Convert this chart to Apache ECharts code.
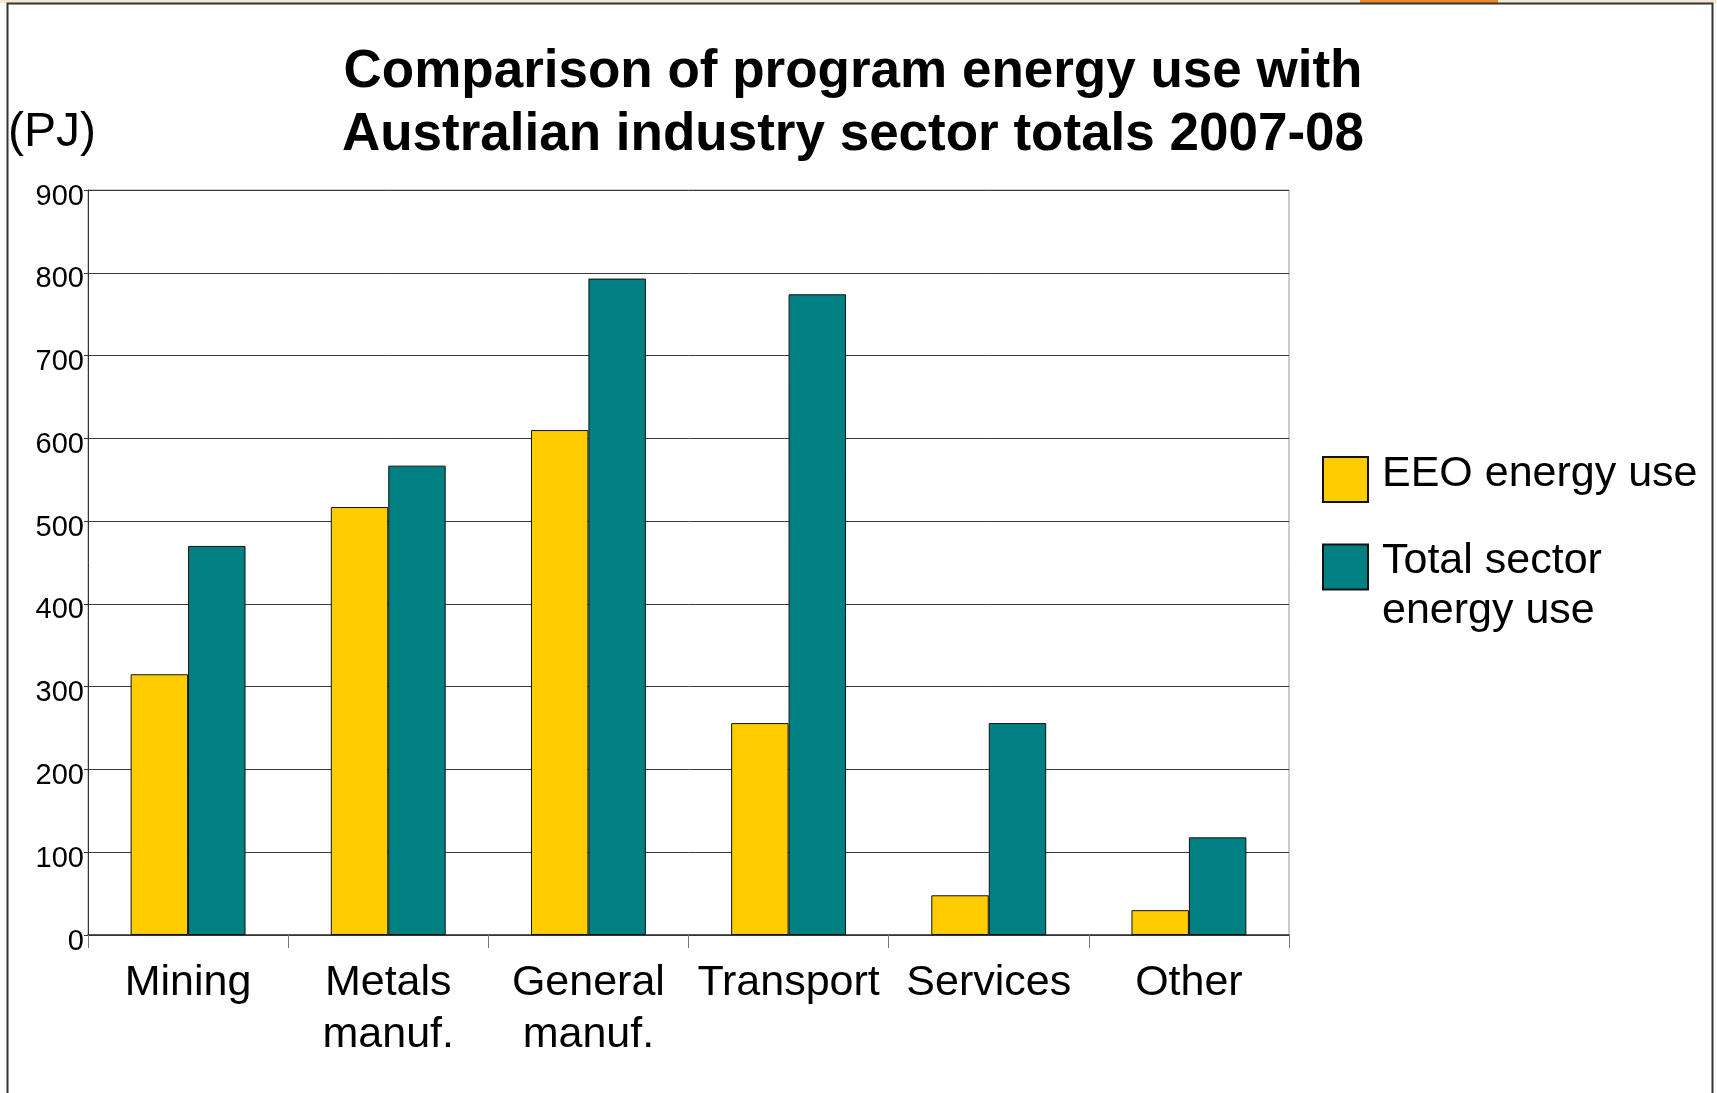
<!DOCTYPE html>
<html>
<head>
<meta charset="utf-8">
<script src="https://cdn.jsdelivr.net/npm/echarts@6/dist/echarts.min.js"></script>
<style>
html,body{margin:0;padding:0;background:#fff;}
#c{width:1717px;height:1093px;}
</style>
</head>
<body>
<div id="c"></div>
<script>
const categories = ['Mining', 'Metals\nmanuf.', 'General\nmanuf.', 'Transport', 'Services', 'Other'];
const eeoEnergyUse = [315, 517, 610, 256, 48, 30];
const totalSectorEnergyUse = [470, 567, 793, 774, 256, 118];
const yTicks = [0, 100, 200, 300, 400, 500, 600, 700, 800, 900];

const FONT = "'Liberation Sans', Arial, sans-serif";
const richLegend = {
  s: { fontSize: 10, lineHeight: 38 },
  e: { fontSize: 10, lineHeight: 10 },
  t: { fontFamily: FONT, fontSize: 43, lineHeight: 50, color: '#000' }
};
const chart = echarts.init(document.getElementById('c'));
chart.setOption({
  backgroundColor: '#fff',
  animation: false,
  textStyle: { fontFamily: FONT, color: '#000' },
  title: {
    text: 'Comparison of program energy use with\nAustralian industry sector totals 2007-08',
    left: 848, top: 36, textAlign: 'center',
    textStyle: { fontFamily: FONT, fontSize: 53, fontWeight: 'bold', lineHeight: 63, color: '#000' }
  },
  grid: {
    left: 88, top: 190, right: 428, bottom: 158,
    show: true, borderColor: '#999', borderWidth: 1, backgroundColor: 'transparent'
  },
  legend: [
    {
      data: ['EEO energy use'], left: 1322, top: 453, padding: 0,
      itemWidth: 45, itemHeight: 45, icon: 'rect',
      formatter: function () { return '{t|EEO energy use}\n{e| }'; },
      textStyle: { fontFamily: FONT, fontSize: 43, color: '#000', padding: [0, 0, 0, 9], rich: richLegend }
    },
    {
      data: ['Total sector energy use'], left: 1322, top: 512, padding: 0,
      itemWidth: 45, itemHeight: 45, icon: 'rect',
      formatter: function () { return '{s| }\n{t|Total sector}\n{t|energy use}'; },
      textStyle: { fontFamily: FONT, fontSize: 43, color: '#000', padding: [0, 0, 0, 9], rich: richLegend }
    }
  ],
  xAxis: {
    type: 'category',
    data: categories,
    axisLine: { lineStyle: { color: '#333', width: 1.5 } },
    axisTick: { show: true, interval: 0, length: 13, lineStyle: { color: '#777' } },
    axisLabel: { interval: 0, fontFamily: FONT, fontSize: 43, lineHeight: 52, color: '#000', margin: 22 }
  },
  yAxis: {
    type: 'value', min: yTicks[0], max: yTicks[yTicks.length - 1], interval: 100,
    name: '(PJ)', nameLocation: 'end', nameGap: 57,
    nameTextStyle: { fontFamily: FONT, fontSize: 48, color: '#000', align: 'center', verticalAlign: 'middle', padding: [0, 72, 0, 0] },
    axisLine: { show: true, lineStyle: { color: '#333', width: 1 } },
    axisTick: { show: true, length: 4, lineStyle: { color: '#333' } },
    axisLabel: { fontFamily: FONT, fontSize: 29, color: '#000', margin: 4, verticalAlign: 'top', lineHeight: 13 },
    splitLine: { show: true, lineStyle: { color: '#3a3a3a', width: 1 } }
  },
  series: [
    {
      name: 'EEO energy use', type: 'bar', data: eeoEnergyUse,
      barWidth: '28.7%', barGap: '0%',
      itemStyle: { color: '#FFCC00', borderColor: '#111', borderWidth: 1 }
    },
    {
      name: 'Total sector energy use', type: 'bar', data: totalSectorEnergyUse,
      barWidth: '28.7%', barGap: '0%',
      itemStyle: { color: '#008080', borderColor: '#111', borderWidth: 1 }
    }
  ],
  graphic: [
    { type: 'rect', left: 0, top: 0, shape: { width: 1717, height: 3 }, style: { fill: '#f3ead0' }, silent: true },
    { type: 'rect', left: 1360, top: 0, shape: { width: 138, height: 3 }, style: { fill: '#f08a24' }, silent: true },
    { type: 'rect', shape: { x: 7.5, y: 3.5, width: 1705, height: 1100 }, style: { fill: null, stroke: '#333', lineWidth: 2 }, silent: true }
  ]
});
</script>
</body>
</html>
